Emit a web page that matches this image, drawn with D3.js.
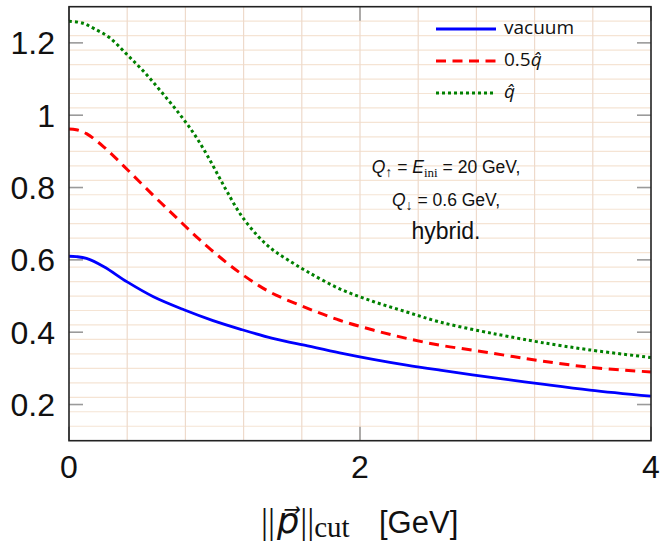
<!DOCTYPE html>
<html>
<head>
<meta charset="utf-8">
<script src="https://cdn.jsdelivr.net/npm/d3@7"></script>
<style>
  body { margin: 0; background: #fff; }
  svg { display: block; font-family: "Liberation Sans", "DejaVu Sans", sans-serif; }
</style>
</head>
<body>
<script>
// values
const vacuumX = [0, 0.05, 0.12, 0.24, 0.4, 0.58, 0.79, 0.99, 1.18, 1.4, 1.64, 1.86, 2.09, 2.32, 2.55, 2.9, 3.24, 3.58, 4.0];
const vacuumY = [0.61, 0.609, 0.604, 0.581, 0.539, 0.498, 0.462, 0.432, 0.408, 0.383, 0.362, 0.343, 0.325, 0.309, 0.295, 0.275, 0.257, 0.24, 0.223];

const halfQX = [0, 0.05, 0.12, 0.24, 0.4, 0.58, 0.74, 0.9, 1.09, 1.2, 1.3, 1.4, 1.64, 1.86, 2.09, 2.32, 2.55, 2.78, 3.0, 3.24, 3.58, 4.0];
const halfQY = [0.962, 0.96, 0.949, 0.912, 0.85, 0.778, 0.716, 0.655, 0.59, 0.557, 0.53, 0.507, 0.466, 0.433, 0.406, 0.383, 0.364, 0.35, 0.336, 0.321, 0.303, 0.29];

const fullQX = [0, 0.09, 0.17, 0.28, 0.4, 0.52, 0.64, 0.76, 0.86, 0.95, 1.03, 1.09, 1.18, 1.3, 1.4, 1.5, 1.64, 1.86, 2.09, 2.32, 2.55, 2.83, 3.01, 3.24, 3.58, 4.0];
const fullQY = [1.26, 1.255, 1.24, 1.214, 1.167, 1.118, 1.062, 1.003, 0.948, 0.889, 0.83, 0.786, 0.725, 0.665, 0.628, 0.601, 0.567, 0.52, 0.485, 0.456, 0.428, 0.403, 0.389, 0.372, 0.351, 0.33];

const xTicks = [0, 2, 4];
const yTicks = [0.2, 0.4, 0.6, 0.8, 1.0, 1.2];
const yTickLabels = ["0.2", "0.4", "0.6", "0.8", "1", "1.2"];

const W = 661, H = 544;
const x = d3.scaleLinear().domain([0, 4]).range([69, 651]);
const y = d3.scaleLinear().domain([0.1, 1.3]).range([440.7, 6.7]);

const svg = d3.select("body").append("svg").attr("width", W).attr("height", H);

// grid
const grid = svg.append("g");
grid.selectAll("line.h")
  .data(d3.range(0, 31).map(i => 0.1 + i * 0.04).filter(v => v > 0.1 && v < 1.3))
  .join("line")
  .attr("x1", x(0)).attr("x2", x(4))
  .attr("y1", d => y(d)).attr("y2", d => y(d))
  .attr("stroke", d => Math.abs(d * 5 - Math.round(d * 5)) < 1e-6 ? "#efd3b6" : "#f5e4d4")
  .attr("stroke-width", 1.2);
grid.selectAll("line.v")
  .data(d3.range(1, 10).map(i => i * 0.4))
  .join("line")
  .attr("y1", y(0.1)).attr("y2", y(1.3))
  .attr("x1", d => x(d)).attr("x2", d => x(d))
  .attr("stroke", "#eedacb")
  .attr("stroke-width", 1.2);

// ticks, inward, on all four sides
const tk = svg.append("g").attr("stroke", "#9a9a9a").attr("stroke-width", 1.6);
yTicks.forEach(v => {
  tk.append("line").attr("x1", x(0)).attr("x2", x(0) + 14).attr("y1", y(v)).attr("y2", y(v));
  tk.append("line").attr("x1", x(4)).attr("x2", x(4) - 14).attr("y1", y(v)).attr("y2", y(v));
});
xTicks.forEach(v => {
  tk.append("line").attr("x1", x(v)).attr("x2", x(v)).attr("y1", y(0.1)).attr("y2", y(0.1) - 14);
  tk.append("line").attr("x1", x(v)).attr("x2", x(v)).attr("y1", y(1.3)).attr("y2", y(1.3) + 14);
});

// curves
const line = d3.line().x(d => x(d[0])).y(d => y(d[1])).curve(d3.curveCatmullRom.alpha(0.5));
const series = [
  { xs: vacuumX, ys: vacuumY, color: "#0000ff", dash: null, w: 2.8 },
  { xs: halfQX, ys: halfQY, color: "#ff0000", dash: "10,6.5", w: 3 },
  { xs: fullQX, ys: fullQY, color: "#008000", dash: "3,3", w: 3 }
];
series.forEach(s => {
  svg.append("path")
    .datum(d3.zip(s.xs, s.ys))
    .attr("d", line)
    .attr("fill", "none")
    .attr("stroke", s.color)
    .attr("stroke-width", s.w)
    .attr("stroke-dasharray", s.dash);
});

// frame
svg.append("rect")
  .attr("x", x(0)).attr("y", y(1.3))
  .attr("width", x(4) - x(0)).attr("height", y(0.1) - y(1.3))
  .attr("fill", "none").attr("stroke", "#222").attr("stroke-width", 1.6);

// tick labels
svg.append("g").selectAll("text")
  .data(yTicks)
  .join("text")
  .attr("x", 55).attr("y", d => y(d) + 11.5)
  .attr("text-anchor", "end")
  .attr("font-size", 32)
  .attr("fill", "#111")
  .text((d, i) => yTickLabels[i]);
svg.append("g").selectAll("text")
  .data(xTicks)
  .join("text")
  .attr("x", d => x(d)).attr("y", 478)
  .attr("text-anchor", "middle")
  .attr("font-size", 32)
  .attr("fill", "#111")
  .text(d => d);

// x axis title, pieces placed one after another
const xt = svg.append("text").attr("x", 261).attr("y", 533)
  .attr("font-size", 35).attr("fill", "#111");
xt.append("tspan").attr("font-family", "Liberation Serif").text("||");
xt.append("tspan").attr("font-style", "italic").attr("dx", 2).text("p\u20D7");
xt.append("tspan").attr("font-family", "Liberation Serif").attr("dx", 1).text("||");
xt.append("tspan").attr("font-family", "Liberation Serif").attr("font-size", 29).attr("dy", 4).text("cut");
xt.append("tspan").attr("dy", -4).attr("x", 379).attr("font-size", 31).text("[GeV]");

// legend
const legendLabels = ["vacuum", "0.5", ""];
const lg = svg.append("g");
series.forEach((s, i) => {
  const ly = 29 + i * 32;
  lg.append("line")
    .attr("x1", 436).attr("x2", 496).attr("y1", ly).attr("y2", ly)
    .attr("stroke", s.color).attr("stroke-width", s.w)
    .attr("stroke-dasharray", s.dash);
  const t = lg.append("text").attr("x", 504).attr("y", ly + 5)
    .attr("font-family", "Open Sans").attr("font-size", 19).attr("fill", "#111")
    .text(legendLabels[i]);
  if (i > 0) t.append("tspan").attr("font-style", "italic").text("q\u0302");
});

// annotation
const ann = svg.append("g").attr("fill", "#111").attr("text-anchor", "middle");
const a1 = ann.append("text").attr("x", 446).attr("y", 173).attr("font-size", 17.5);
a1.append("tspan").attr("font-style", "italic").text("Q");
a1.append("tspan").attr("font-size", 14).attr("dy", 4).text("\u2191");
a1.append("tspan").attr("dy", -4).text(" = ");
a1.append("tspan").attr("font-style", "italic").text("E");
a1.append("tspan").attr("font-family", "Liberation Serif").attr("font-size", 13).attr("dy", 4).text("ini");
a1.append("tspan").attr("dy", -4).text(" = 20 GeV,");
const a2 = ann.append("text").attr("x", 446).attr("y", 206).attr("font-size", 17.5);
a2.append("tspan").attr("font-style", "italic").text("Q");
a2.append("tspan").attr("font-size", 14).attr("dy", 4).text("\u2193");
a2.append("tspan").attr("dy", -4).text(" = 0.6 GeV,");
ann.append("text").attr("x", 446).attr("y", 239).attr("font-size", 23).text("hybrid.");
</script>
</body>
</html>
